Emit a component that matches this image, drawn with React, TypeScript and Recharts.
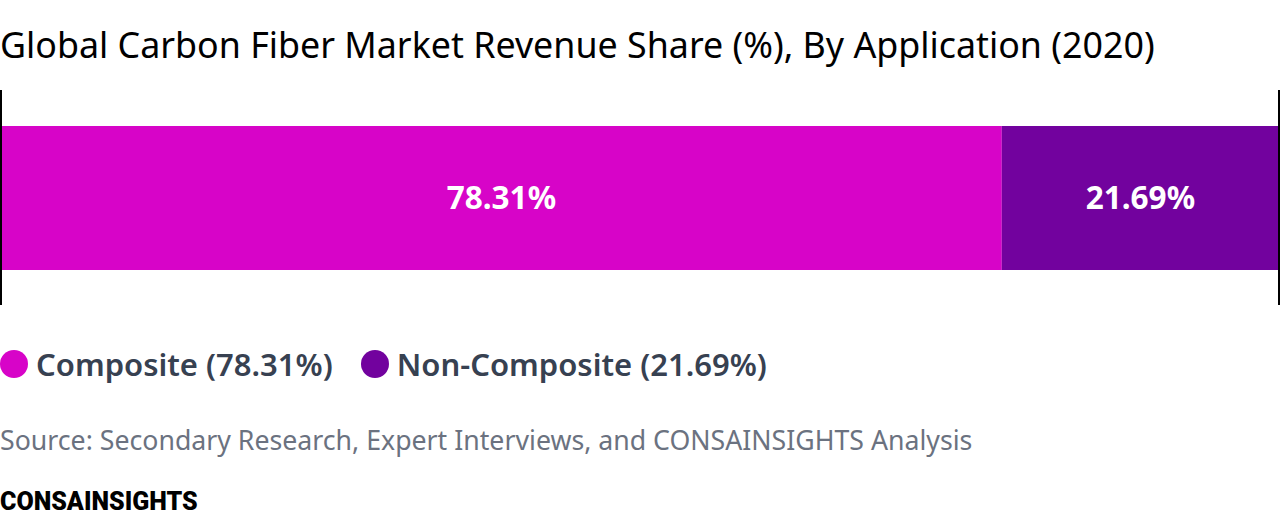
import { BarChart, Bar, XAxis, YAxis, LabelList, ReferenceLine } from 'recharts';

document.body.style.margin = '0';

const segments = ['Composite', 'Non-Composite'];
const shares = [78.31, 21.69];
const colors = ['#d704c8', '#72029e'];

const row: Record<string, string | number> = { name: 'Application' };
segments.forEach((s, i) => {
    row[s] = shares[i];
});
const chartData = [row];

const FONT = '"Noto Sans", "Open Sans", sans-serif';

export default function App() {
    return (
        <div style={{ position: 'relative', width: 1280, height: 512, background: '#fff', fontFamily: FONT, overflow: 'hidden' }}>
            <div style={{ position: 'absolute', left: 0, top: 19, fontSize: 35.8, color: '#000', whiteSpace: 'nowrap', lineHeight: '50px' }}>
                Global Carbon Fiber Market Revenue Share (%), By Application (2020)
            </div>

            <div style={{ position: 'absolute', left: 0, top: 90 }}>
                <BarChart
                    width={1280}
                    height={215}
                    data={chartData}
                    layout="vertical"
                    margin={{ top: 0, right: 1, bottom: 0, left: 1 }}
                    barCategoryGap={0}
                >
                    <XAxis type="number" domain={[0, 100]} hide />
                    <YAxis type="category" dataKey="name" hide />
                    {segments.map((s, i) => (
                        <Bar key={s} dataKey={s} stackId="a" fill={colors[i]} barSize={144} isAnimationActive={false}>
                            <LabelList
                                dataKey={s}
                                position="center"
                                formatter={(v: number) => `${v.toFixed(2)}%`}
                                fill="#fff"
                                style={{ fontSize: 31.5, fontWeight: 700, fontFamily: FONT }}
                            />
                        </Bar>
                    ))}
                    <ReferenceLine x={0} stroke="#000" strokeWidth={2} />
                    <ReferenceLine x={100} stroke="#000" strokeWidth={2} />
                </BarChart>
            </div>

            <div style={{ position: 'absolute', left: 0, top: 344, display: 'flex', alignItems: 'center', whiteSpace: 'nowrap' }}>
                {segments.map((s, i) => (
                    <div key={s} style={{ display: 'flex', alignItems: 'center', marginRight: 28 }}>
                        <span style={{ display: 'inline-block', width: 28, height: 28, borderRadius: 14, background: colors[i], marginRight: 8 }} />
                        <span style={{ fontSize: 31, fontWeight: 600, color: '#374151', lineHeight: '40px' }}>
                            {s} ({shares[i].toFixed(2)}%)
                        </span>
                    </div>
                ))}
            </div>

            <div style={{ position: 'absolute', left: 0, top: 422, fontSize: 26.7, color: '#6b7280', whiteSpace: 'nowrap', lineHeight: '36px' }}>
                Source: Secondary Research, Expert Interviews, and CONSAINSIGHTS Analysis
            </div>

            <div style={{ position: 'absolute', left: 0, top: 488, fontSize: 25, fontWeight: 900, color: '#000', fontFamily: 'Roboto, sans-serif', lineHeight: '28px' }}>
                CONSAINSIGHTS
            </div>
        </div>
    );
}
